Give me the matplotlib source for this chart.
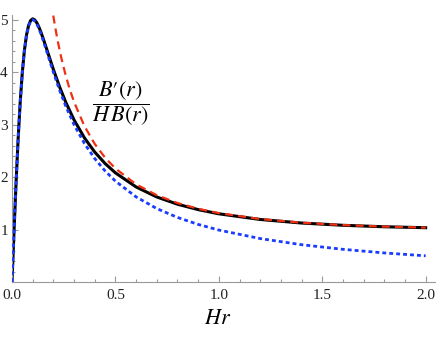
import matplotlib
matplotlib.use("Agg")
import matplotlib.pyplot as plt
from matplotlib.ticker import MultipleLocator

plt.rcParams['font.family'] = ['Liberation Serif', 'DejaVu Serif']
plt.rcParams['mathtext.fontset'] = 'stix'

# values
hr = [0.0, 0.005, 0.01, 0.02, 0.03, 0.04, 0.05, 0.06, 0.07, 0.08, 0.09, 0.1,
      0.11, 0.12, 0.13, 0.14, 0.15, 0.17, 0.2, 0.23, 0.26, 0.3, 0.35, 0.4,
      0.45, 0.5, 0.6, 0.7, 0.8, 0.9, 1.0, 1.2, 1.4, 1.6, 1.8, 2.0]
ratio_full = [0.0, 0.499, 0.990, 1.923, 2.753, 3.450, 4.003, 4.417, 4.706,
              4.888, 4.985, 5.017, 4.997, 4.942, 4.860, 4.761, 4.650, 4.412,
              4.053, 3.721, 3.426, 3.090, 2.749, 2.477, 2.259, 2.081, 1.812,
              1.621, 1.483, 1.380, 1.300, 1.192, 1.124, 1.081, 1.053, 1.035]
ratio_small = [0.0, 0.499, 0.990, 1.923, 2.752, 3.448, 4.000, 4.412, 4.698,
               4.878, 4.972, 5.000, 4.977, 4.918, 4.833, 4.730, 4.615, 4.370,
               4.000, 3.657, 3.351, 3.000, 2.642, 2.353, 2.118, 1.923, 1.622,
               1.400, 1.231, 1.098, 0.990, 0.828, 0.711, 0.623, 0.554, 0.499]

hr_big = [0.19, 0.2, 0.21, 0.22, 0.23, 0.24, 0.26, 0.28, 0.3, 0.35, 0.4,
          0.45, 0.5, 0.6, 0.7, 0.8, 0.9, 1.0, 1.2, 1.4, 1.6, 1.8, 2.0]
ratio_big = [5.326, 5.066, 4.832, 4.618, 4.424, 4.246, 3.932, 3.664, 3.433,
             2.973, 2.632, 2.370, 2.164, 1.862, 1.655, 1.506, 1.396, 1.313,
             1.200, 1.130, 1.085, 1.056, 1.037]

fig = plt.figure(figsize=(4.36, 3.37), dpi=100)
ax = fig.add_axes([12/436, 1 - 282/337, 424/436, 267/337])

ax.plot(hr, ratio_full, color='black', lw=2.2, zorder=2)
ax.plot(hr_big, ratio_big, color='#f03010', lw=1.6,
        linestyle=(0, (3.6, 2.3)), zorder=3)
ax.plot(hr, ratio_small, color='#1a3cff', lw=2.0,
        linestyle=(0, (1.4, 1.1)), zorder=4)

ax.set_xlim(0, 2.05)
ax.set_ylim(0, 5.09)

for s in ['top', 'right']:
    ax.spines[s].set_visible(False)
for s in ['left', 'bottom']:
    ax.spines[s].set_color('#999999')
    ax.spines[s].set_linewidth(0.8)

ax.set_xticks([0.0, 0.5, 1.0, 1.5, 2.0])
ax.set_xticklabels(['0.0', '0.5', '1.0', '1.5', '2.0'])
ax.set_yticks([1, 2, 3, 4, 5])
ax.xaxis.set_minor_locator(MultipleLocator(0.1))
ax.yaxis.set_minor_locator(MultipleLocator(0.2))
ax.tick_params(which='both', direction='in', color='#999999', width=0.8,
               labelsize=11, labelcolor='#222222')
ax.tick_params(which='major', length=4)
ax.tick_params(which='minor', length=2.5)
ax.tick_params(axis='x', pad=5)
ax.tick_params(axis='y', pad=3)

ax.text(0.527, 3.39, "$\\dfrac{B\u2032(r)}{H\\,B(r)}$", fontsize=16,
        ha='center', va='center')
fig.text(218/436, 1 - 320/337, r'$Hr$', fontsize=16, ha='center',
         va='center')

fig.savefig('out.png', dpi=100)
